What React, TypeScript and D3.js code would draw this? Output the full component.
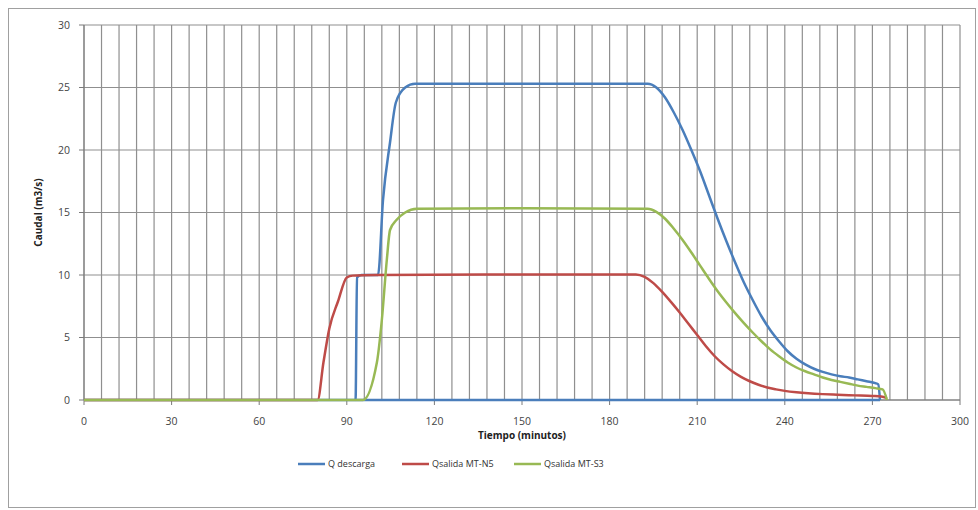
import React from "react";
import * as d3 from "d3";

const xTicks = [0, 30, 60, 90, 120, 150, 180, 210, 240, 270, 300];
const yTicks = [0, 5, 10, 15, 20, 25, 30];

const blueT = [0, 93, 93.5, 95, 100.7, 102.4, 104.8, 106.8, 110, 113.4, 150, 193, 196, 199, 202, 205, 208, 211, 214, 217, 220, 223, 226, 229, 232, 235, 238, 241, 244, 247, 250, 253, 256, 259, 262, 265, 268, 271, 272, 272.6];
const blueQ = [0, 0, 9.8, 10, 10, 16, 20.6, 23.8, 25.0, 25.3, 25.3, 25.3, 25.0, 24.2, 23.0, 21.6, 20.0, 18.3, 16.4, 14.5, 12.7, 11.0, 9.4, 8.0, 6.7, 5.6, 4.7, 3.9, 3.3, 2.85, 2.5, 2.25, 2.05, 1.9, 1.8, 1.65, 1.5, 1.35, 1.25, 0];
const blueBaseT = [93, 272.6];
const blueBaseQ = [0, 0];

const redT = [0, 80, 82, 84, 87, 90, 92, 100, 150, 189, 192, 195, 198, 201, 204, 207, 210, 213, 216, 219, 222, 225, 228, 231, 234, 237, 240, 244, 248, 253, 258, 264, 270, 273, 275];
const redQ = [0, 0, 3, 5.7, 7.9, 9.8, 9.95, 10.0, 10.05, 10.05, 9.85, 9.35, 8.65, 7.85, 7.0, 6.1, 5.2, 4.3, 3.5, 2.85, 2.3, 1.85, 1.5, 1.22, 1.0, 0.85, 0.73, 0.62, 0.54, 0.47, 0.42, 0.37, 0.32, 0.28, 0.15];

const greenT = [0, 95.5, 100.3, 102, 103.7, 104.8, 107, 110, 114, 150, 193, 196, 199, 202, 205, 208, 211, 214, 217, 220, 223, 226, 229, 232, 235, 238, 241, 244, 247, 250, 253, 256, 259, 262, 265, 268, 271, 273.5, 275];
const greenQ = [0, 0, 3.0, 6.4, 11.2, 13.6, 14.4, 15.0, 15.3, 15.35, 15.3, 15.05, 14.5, 13.7, 12.8, 11.8, 10.75, 9.7, 8.7, 7.8, 6.95, 6.15, 5.4, 4.7, 4.05, 3.5, 3.0, 2.6, 2.3, 2.05, 1.8, 1.6, 1.45, 1.3, 1.15, 1.05, 0.95, 0.85, 0];

const seriesNames = ["Q descarga", "Qsalida MT-N5", "Qsalida MT-S3"];
const seriesColors = ["#4A7EBB", "#BE4B48", "#98B954"];

export default function App() {
  const W = 978, H = 510;
  const x = d3.scaleLinear().domain([0, 300]).range([84, 960]);
  const y = d3.scaleLinear().domain([0, 30]).range([400, 25]);
  const line = d3.line<[number, number]>().x(d => x(d[0])).y(d => y(d[1])).curve(d3.curveMonotoneX);
  const lin = d3.line<[number, number]>().x(d => x(d[0])).y(d => y(d[1]));
  const zip = (a: number[], b: number[]) => a.map((v, i) => [v, b[i]] as [number, number]);
  const minor = d3.range(0, 301, 6);
  const font = "'Open Sans', 'Liberation Sans', sans-serif";
  const grid = "#8f8f8f";
  const legendX = [298, 402, 514];
  return (
    <svg width={W} height={H} style={{ position: "absolute", left: 0, top: 0, background: "#fff" }}>
      <rect x={8.5} y={8.5} width={967} height={499} fill="#fff" stroke="#a0a0a0" />
      {minor.map(m => (
        <line key={"v" + m} x1={x(m)} x2={x(m)} y1={y(30)} y2={y(0)} stroke={grid} strokeWidth={1.2} />
      ))}
      {yTicks.map(t => (
        <line key={"h" + t} x1={x(0)} x2={x(300)} y1={y(t)} y2={y(t)} stroke={grid} strokeWidth={1.2} />
      ))}
      <line x1={x(0)} x2={x(0)} y1={y(30)} y2={y(0)} stroke="#7a7a7a" strokeWidth={1} />
      <line x1={x(0)} x2={x(300)} y1={y(0)} y2={y(0)} stroke="#7a7a7a" strokeWidth={1} />
      {yTicks.map(t => (
        <g key={"yt" + t}>
          <line x1={x(0) - 5} x2={x(0)} y1={y(t)} y2={y(t)} stroke="#7a7a7a" />
          <text x={70} y={y(t)} dy="0.35em" textAnchor="end" fontSize={10.5} fill="#444" fontFamily={font}>{t}</text>
        </g>
      ))}
      {xTicks.map(t => (
        <g key={"xt" + t}>
          <line x1={x(t)} x2={x(t)} y1={y(0)} y2={y(0) + 5} stroke="#7a7a7a" />
          <text x={x(t)} y={421} dy="0.35em" textAnchor="middle" fontSize={10.5} fill="#444" fontFamily={font}>{t}</text>
        </g>
      ))}
      <text x={(x(0) + x(300)) / 2} y={435} dy="0.35em" textAnchor="middle" fontSize={10} fontWeight="bold" fill="#222" fontFamily={font}>Tiempo (minutos)</text>
      <text transform={`translate(38,${(y(0) + y(30)) / 2}) rotate(-90)`} textAnchor="middle" dy="0.35em" fontSize={10} fontWeight="bold" fill="#222" fontFamily={font}>Caudal (m3/s)</text>
      <path d={lin(zip(blueBaseT, blueBaseQ)) || ""} fill="none" stroke={seriesColors[0]} strokeWidth={2.5} />
      <path d={line(zip(blueT, blueQ)) || ""} fill="none" stroke={seriesColors[0]} strokeWidth={2.5} strokeLinejoin="round" />
      <path d={line(zip(redT, redQ)) || ""} fill="none" stroke={seriesColors[1]} strokeWidth={2.5} strokeLinejoin="round" />
      <path d={line(zip(greenT, greenQ)) || ""} fill="none" stroke={seriesColors[2]} strokeWidth={2.5} strokeLinejoin="round" />
      {seriesNames.map((n, i) => (
        <g key={n}>
          <line x1={legendX[i]} x2={legendX[i] + 27} y1={464} y2={464} stroke={seriesColors[i]} strokeWidth={2.5} />
          <text x={legendX[i] + 30} y={464} dy="0.35em" fontSize={9} fill="#333" fontFamily={font}>{n}</text>
        </g>
      ))}
    </svg>
  );
}
